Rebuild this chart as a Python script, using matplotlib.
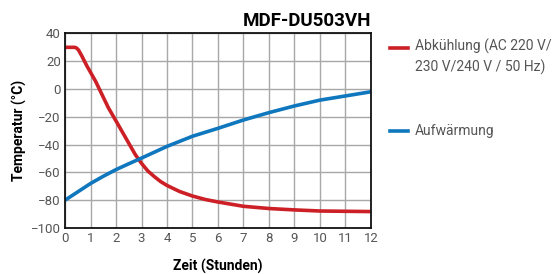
import matplotlib.pyplot as plt
from matplotlib.lines import Line2D

plt.rcParams['font.family'] = ['Roboto', 'DejaVu Sans']

title = "MDF-DU503VH"
x_label = "Zeit (Stunden)"
y_label = "Temperatur (°C)"
label_cool = "Abkühlung (AC 220 V/\n230 V/240 V / 50 Hz)"
label_warm = "Aufwärmung"

# Abkuehlung (rot)
cool_t = [0, 0.38, 0.45, 0.53, 0.66, 0.86, 1, 1.2, 1.45, 1.7, 2, 2.25,
          2.5, 2.75, 3, 3.25, 3.5, 3.75, 4, 4.5, 5, 5.5, 6, 7, 8, 9, 10, 11, 12]
cool_v = [30, 30, 29.5, 28, 23.7, 16.5, 12, 5.5, -4, -13.5, -23, -31,
          -39, -47, -53.5, -59, -63, -66.6, -69.4, -73.8, -77, -79.5, -81.3,
          -84.4, -86, -87, -87.8, -88, -88.2]

# Aufwaermung (blau)
warm_t = [0, 0.5, 1, 1.5, 2, 2.5, 3, 3.5, 4, 5, 6, 7, 8, 9, 10, 11, 12]
warm_v = [-80, -74, -68, -62.8, -58, -53.8, -49.7, -45.5, -41.3, -34, -28.3,
          -22.3, -17, -12.2, -8, -5, -2]

red = '#cc1f26'
blue = '#0f77bd'

fig = plt.figure(figsize=(5.56, 2.74), dpi=100)
ax = fig.add_axes([0.117, 0.168, 0.55, 0.71])

ax.plot(cool_t, cool_v, color=red, linewidth=2.6, solid_capstyle='butt')
ax.plot(warm_t, warm_v, color=blue, linewidth=2.6, solid_capstyle='butt')

ax.set_xlim(0, 12)
ax.set_ylim(-100, 40)
ax.set_xticks(range(0, 13))
ax.set_yticks(range(-100, 41, 20))
ax.grid(True, color='#a8a8a8', linewidth=1.0)
ax.set_axisbelow(True)
ax.tick_params(length=0, labelsize=9.5, labelcolor='#555555', pad=3)
for s in ax.spines.values():
    s.set_linewidth(1.3)
    s.set_color('#111111')

ax.set_xlabel(x_label, fontsize=10, fontweight='bold', labelpad=10)
ax.set_ylabel(y_label, fontsize=10, fontweight='bold', labelpad=3)
ax.set_title(title, loc='right', fontsize=13.5, fontweight='bold', pad=5)

# legende rechts daneben
fig.add_artist(Line2D([0.701, 0.734], [0.823, 0.823], color=red, linewidth=2.6,
                      transform=fig.transFigure))
fig.text(0.746, 0.858, label_cool, fontsize=10, color='#555555',
         va='top', ha='left', linespacing=1.45)
fig.add_artist(Line2D([0.701, 0.734], [0.522, 0.522], color=blue, linewidth=2.6,
                      transform=fig.transFigure))
fig.text(0.746, 0.522, label_warm, fontsize=10, color='#555555',
         va='center', ha='left')

fig.savefig('out.png', dpi=100)
